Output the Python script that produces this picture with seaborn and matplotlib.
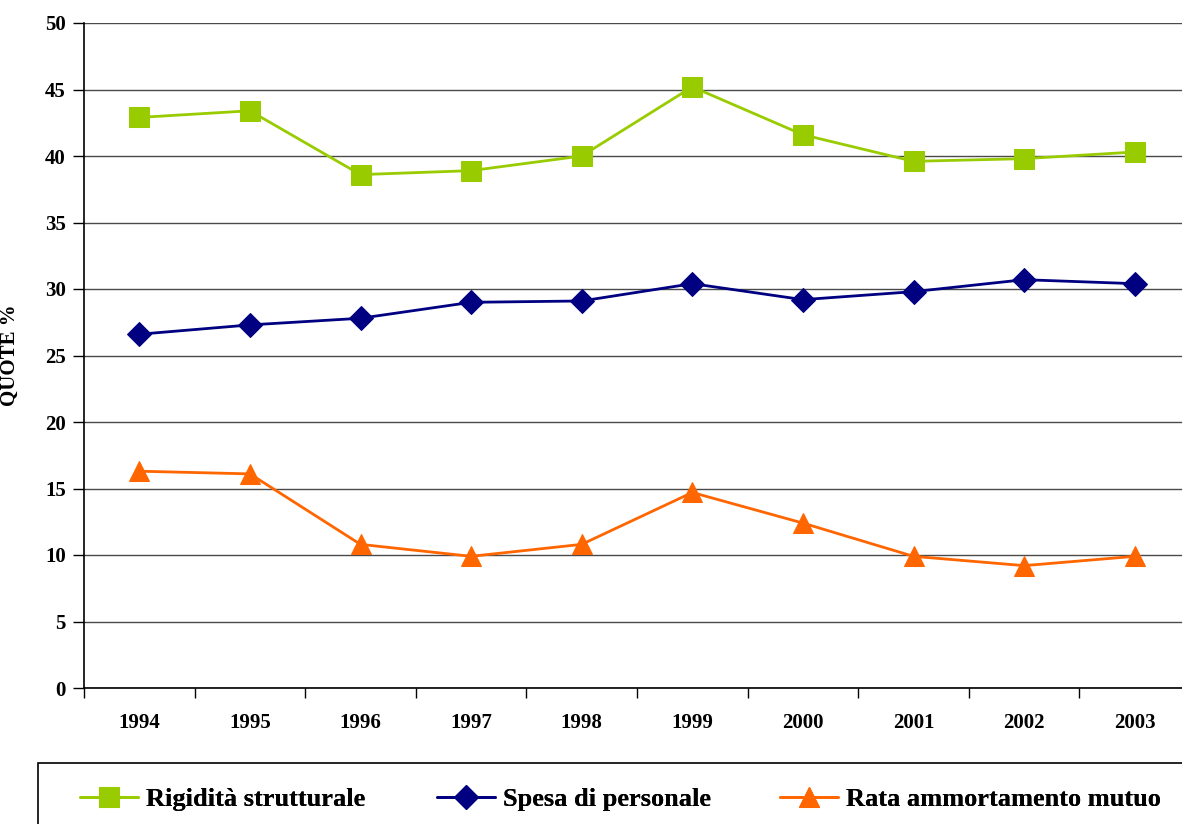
import matplotlib
matplotlib.use("Agg")
import matplotlib.pyplot as plt
import seaborn as sns
import pandas as pd
from matplotlib.patches import Rectangle
from matplotlib.ticker import FixedLocator

years = ["1994", "1995", "1996", "1997", "1998", "1999", "2000", "2001", "2002", "2003"]
rigidita = [42.9, 43.4, 38.6, 38.9, 40.0, 45.2, 41.6, 39.6, 39.8, 40.3]
spesa = [26.6, 27.3, 27.8, 29.0, 29.1, 30.4, 29.2, 29.8, 30.7, 30.4]
rata = [16.3, 16.1, 10.8, 9.9, 10.8, 14.7, 12.4, 9.9, 9.2, 9.9]
series_names = ["Rigidità strutturale", "Spesa di personale", "Rata ammortamento mutuo"]
colors = ["#99CC00", "#000080", "#FF6600"]
markers = ["s", "D", "^"]
msizes = [14, 12, 14]

sns.set_theme(style="white")
plt.rcParams['font.family'] = ['Liberation Serif', 'DejaVu Serif']
plt.rcParams['font.weight'] = 'bold'
plt.rcParams['text.color'] = 'black'
plt.rcParams['axes.labelcolor'] = 'black'
plt.rcParams['xtick.color'] = 'black'
plt.rcParams['ytick.color'] = 'black'
plt.rcParams['xtick.labelcolor'] = 'black'
plt.rcParams['ytick.labelcolor'] = 'black'

df = pd.DataFrame({
    "year": years * 3,
    "value": rigidita + spesa + rata,
    "series": [series_names[0]] * 10 + [series_names[1]] * 10 + [series_names[2]] * 10,
})

fig = plt.figure(figsize=(11.82, 8.24), dpi=100)
W, H = 1182, 824
ax = fig.add_axes([84 / W, 1 - 688 / H, 1106 / W, (688 - 23) / H])

for name, c, m, ms in zip(series_names, colors, markers, msizes):
    sub = df[df["series"] == name]
    sns.lineplot(data=sub, x="year", y="value", ax=ax, color=c, marker=m,
                 markersize=ms, markeredgecolor=c, linewidth=2, label=name,
                 sort=False, zorder=3)

ax.set_xlim(-0.5, 9.5)
ax.set_ylim(0, 50)
ax.set_yticks(range(0, 51, 5))
ax.yaxis.grid(True, color="#4a4a4a", linewidth=1)
ax.set_axisbelow(True)
ax.xaxis.set_major_locator(FixedLocator(range(10)))
ax.set_xticklabels(years)
ax.xaxis.set_minor_locator(FixedLocator([i - 0.5 for i in range(11)]))
ax.tick_params(axis="x", which="major", length=0, pad=18, labelsize=15, labelcolor="black")
ax.tick_params(axis="x", which="minor", length=7, width=1, color="black", direction="out", bottom=True)
ax.tick_params(axis="y", length=8, width=1, color="black", direction="out", left=True,
               labelsize=15, pad=5, labelcolor="black")
for lbl in ax.get_yticklabels() + ax.get_xticklabels():
    lbl.set_fontweight("bold")
for s in ["top", "right"]:
    ax.spines[s].set_visible(False)
ax.spines["left"].set_color("black")
ax.spines["bottom"].set_color("black")
ax.spines["left"].set_linewidth(1.2)
ax.spines["bottom"].set_linewidth(1.2)
ax.set_xlabel("")
ax.set_ylabel("QUOTE %", fontsize=15, fontweight="bold", color="black")
ax.yaxis.set_label_coords(-(84 - 20) / 1106, 0.5)

handles, labels = ax.get_legend_handles_labels()
ax.get_legend().remove()
fig.patches.append(Rectangle((38 / W, -0.1), 1.0, (824 - 763) / H + 0.1,
                             transform=fig.transFigure, fill=False,
                             edgecolor="black", linewidth=1.2))
leg_x = [80, 437, 780]
for h, l, x in zip(handles, labels, leg_x):
    lg = fig.legend([h], [l], loc="center left", bbox_to_anchor=(x / W, 1 - 799 / H),
                    frameon=False, handlelength=2.2, handletextpad=0.3,
                    borderaxespad=0, borderpad=0, labelcolor="black",
                    prop={"weight": "bold", "size": 19})
    fig.add_artist(lg)

fig.savefig("out.png", dpi=100)
